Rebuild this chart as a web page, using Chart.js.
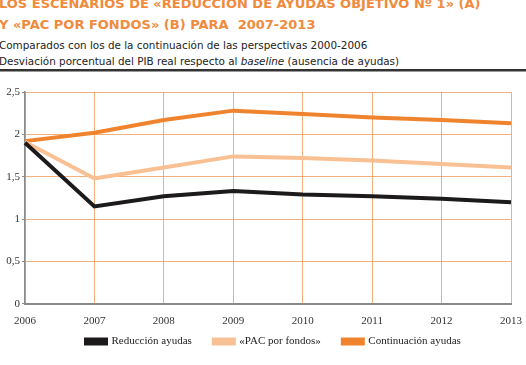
<!DOCTYPE html>
<html>
<head>
<meta charset="utf-8">
<script src="https://cdn.jsdelivr.net/npm/chart.js@4/dist/chart.umd.min.js"></script>
<style>
    html, body { margin: 0; padding: 0; background: #fff; }
    body { width: 526px; height: 365px; position: relative; overflow: hidden; }
    .ttl { position: absolute; left: -1px; font: bold 13px "DejaVu Sans", sans-serif; color: #f08a3c; white-space: nowrap; }
    .sub { position: absolute; left: -1px; font: 10.4px "DejaVu Sans", sans-serif; color: #222; white-space: nowrap; }
    .rule { position: absolute; left: 0; top: 69px; width: 526px; height: 2px; background: #333; border-bottom: 1px solid #999; }
    #wrap { position: absolute; left: 0; top: 80px; width: 526px; height: 302px; }
</style>
</head>
<body>
<div class="ttl" style="top:-4px">LOS ESCENARIOS DE «REDUCCIÓN DE AYUDAS OBJETIVO Nº 1» (A)</div>
<div class="ttl" style="top:17px">Y «PAC POR FONDOS» (B) PARA&nbsp; 2007-2013</div>
<div class="sub" style="top:39px">Comparados con los de la continuación de las perspectivas 2000-2006</div>
<div class="sub" style="top:55px">Desviación porcentual del PIB real respecto al <i>baseline</i> (ausencia de ayudas)</div>
<div class="rule"></div>
<div id="wrap"><canvas id="chart"></canvas></div>
<script>
    "use strict";

    const years = ["2006", "2007", "2008", "2009", "2010", "2011", "2012", "2013"];
    const reduccion = [1.90, 1.15, 1.27, 1.33, 1.29, 1.27, 1.24, 1.20];
    const pacFondos = [1.91, 1.48, 1.61, 1.74, 1.72, 1.69, 1.65, 1.61];
    const continuacion = [1.92, 2.02, 2.17, 2.28, 2.24, 2.20, 2.17, 2.13];

    const gridOrange = "rgba(240, 150, 80, 0.75)";
    const tickFont = { family: "'Liberation Serif', serif", size: 11 };

    function line(label, data, color) {
        return {
            label: label,
            data: data,
            borderColor: color,
            backgroundColor: color,
            borderWidth: 4,
            pointRadius: 0,
            tension: 0,
        };
    }

    // the original legend row starts at x=84 and sits just under the year labels
    const LEGEND_X = 86;
    const LEGEND_Y = 256;
    const placeLegend = {
        id: "placeLegend",
        afterLayout: function (chart) {
            const lg = chart.legend;
            lg._base = { left: lg.left, right: lg.right, top: lg.top, bottom: lg.bottom };
        },
        beforeDraw: function (chart) {
            const lg = chart.legend;
            const hit = lg.legendHitBoxes && lg.legendHitBoxes[0];
            if (!lg._base || !hit) return;
            const dx = LEGEND_X - hit.left;
            const dy = LEGEND_Y - hit.top;
            lg.left = lg._base.left + dx;
            lg.right = lg._base.right + dx;
            lg.top = lg._base.top + dy;
            lg.bottom = lg._base.bottom + dy;
        },
    };

    new Chart(document.getElementById("chart").getContext("2d"), {
        type: "line",
        data: {
            labels: years,
            datasets: [
                line("Reducción ayudas", reduccion, "#1c1a1a"),
                line("«PAC por fondos»", pacFondos, "#f9c094"),
                line("Continuación ayudas", continuacion, "#f0842e"),
            ],
        },
        plugins: [placeLegend],
        options: {
            responsive: true,
            maintainAspectRatio: false,
            animation: false,
            layout: { padding: { top: 12, right: 15, bottom: 8, left: 0 } },
            plugins: {
                tooltip: { enabled: false },
                legend: {
                    position: "bottom",
                    labels: {
                        color: "#222",
                        boxWidth: 20,
                        boxHeight: 4,
                        padding: 22,
                        font: { family: "'Liberation Serif', serif", size: 11 },
                    },
                },
            },
            scales: {
                x: {
                    offset: false,
                    ticks: { color: "#333", font: tickFont, maxRotation: 0, padding: 3 },
                    grid: { color: gridOrange, drawTicks: true, tickLength: 8, tickColor: "transparent" },
                    border: { color: "#8a8a8a", width: 2 },
                },
                y: {
                    min: 0,
                    max: 2.5,
                    afterFit: function (s) { s.width = 25; },
                    ticks: {
                        stepSize: 0.5,
                        color: "#333",
                        font: tickFont,
                        padding: 2,
                        callback: function (v) { return String(v).replace(".", ","); },
                    },
                    grid: {
                        color: gridOrange,
                        tickLength: 3,
                        tickColor: "#8a8a8a",
                    },
                    border: { color: "#8a8a8a", width: 1.5 },
                },
            },
        },
    });
</script>
</body>
</html>
